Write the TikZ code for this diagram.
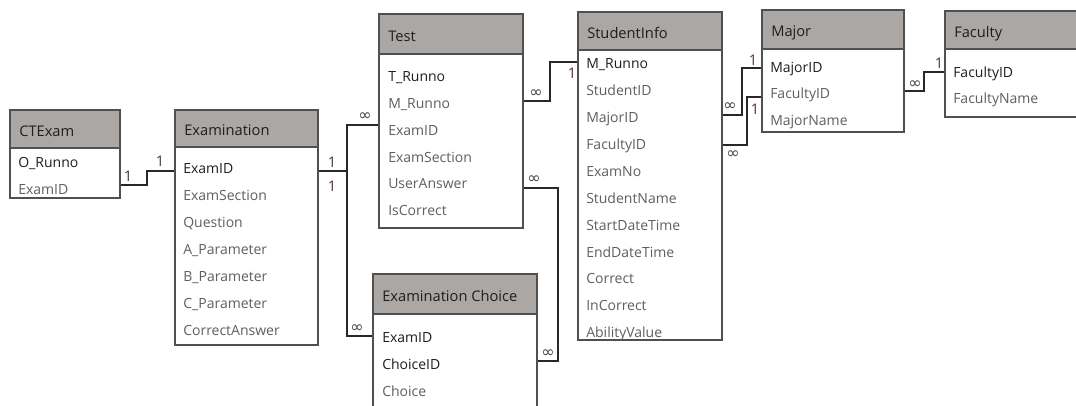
\documentclass[tikz,border=0pt]{standalone}
\usepackage{fontspec}
\setmainfont{Open Sans}
\newfontfamily\symfont{DejaVu Sans}
\usetikzlibrary{fit,calc}
\definecolor{hdrgray}{RGB}{171,167,165}
\definecolor{framegray}{RGB}{80,80,80}
\definecolor{keytext}{RGB}{30,30,30}
\definecolor{fieldtext}{RGB}{95,95,95}
\definecolor{onecol}{RGB}{85,50,55}
\definecolor{manycol}{RGB}{70,70,70}
\definecolor{linkcol}{RGB}{40,40,40}

\tikzset{
  hdr/.style={draw=framegray, fill=hdrgray, line width=0.9pt, inner sep=0pt},
  tbody/.style={draw=framegray, fill=white, line width=0.9pt, inner sep=0pt},
  rowtxt/.style={anchor=west, inner sep=0pt, text height=7.5pt, text depth=0pt,
    font=\fontsize{10.5}{12}\selectfont},
  ttl/.style={rowtxt, text=keytext, font=\fontsize{11}{13}\selectfont},
  pk/.style={rowtxt, text=keytext},
  fld/.style={rowtxt, text=fieldtext},
  link/.style={draw=linkcol, line width=0.9pt},
  one/.style={text=onecol, inner sep=0pt, font=\fontsize{11}{12}\selectfont},
  many/.style={text=manycol, inner sep=0pt, font=\symfont\fontsize{12}{13}\selectfont},
}

% table frame: name, left, right, top, header bottom, bottom, title
\newcommand\ertable[7]{%
  \node[hdr, fit={(#2,#4)(#3,#5)}] (#1h) {};
  \node[tbody, fit={(#2,#5)(#3,#6)}] (#1) {};
  \node[ttl] (#1t) at (#2+9, {(#4+#5)/2+2}) {#7};
}

\begin{document}
\begin{tikzpicture}[x=0.75pt, y=-0.75pt]
  \useasboundingbox (0,0) rectangle (1076,405);
  \clip (0,0) rectangle (1076,405);

  % ---- tables ----
  \ertable{ct}{10}{120}{110}{148}{198}{CTExam}
  \node[pk]  (ct1) at (18,162) {O\_Runno};
  \node[fld] (ct2) at (18,189) {ExamID};

  \ertable{ex}{175}{318}{110}{147}{345}{Examination}
  \node[pk]  (ex1) at (183,168) {ExamID};
  \node[fld] (ex2) at (183,195) {ExamSection};
  \node[fld] (ex3) at (183,222) {Question};
  \node[fld] (ex4) at (183,249) {A\_Parameter};
  \node[fld] (ex5) at (183,276) {B\_Parameter};
  \node[fld] (ex6) at (183,303) {C\_Parameter};
  \node[fld] (ex7) at (183,330) {CorrectAnswer};

  \ertable{ts}{379}{523}{14}{54}{228}{Test}
  \node[pk]  (ts1) at (388,76)  {T\_Runno};
  \node[fld] (ts2) at (388,103) {M\_Runno};
  \node[fld] (ts3) at (388,130) {ExamID};
  \node[fld] (ts4) at (388,157) {ExamSection};
  \node[fld] (ts5) at (388,183) {UserAnswer};
  \node[fld] (ts6) at (388,210) {IsCorrect};

  \ertable{si}{578}{722}{12}{50}{340}{StudentInfo}
  \node[pk]  (si1)  at (586,63)  {M\_Runno};
  \node[fld] (si2)  at (586,90)  {StudentID};
  \node[fld] (si3)  at (586,117) {MajorID};
  \node[fld] (si4)  at (586,144) {FacultyID};
  \node[fld] (si5)  at (586,171) {ExamNo};
  \node[fld] (si6)  at (586,198) {StudentName};
  \node[fld] (si7)  at (586,225) {StartDateTime};
  \node[fld] (si8)  at (586,252) {EndDateTime};
  \node[fld] (si9)  at (586,278) {Correct};
  \node[fld] (si10) at (586,305) {InCorrect};
  \node[fld] (si11) at (586,332) {AbilityValue};

  \ertable{mj}{762}{904}{10}{49}{132}{Major}
  \node[pk]  (mj1) at (770,67)  {MajorID};
  \node[fld] (mj2) at (770,93)  {FacultyID};
  \node[fld] (mj3) at (770,120) {MajorName};

  \ertable{fa}{945}{1090}{11}{49}{117}{Faculty}
  \node[pk]  (fa1) at (953,72) {FacultyID};
  \node[fld] (fa2) at (953,98) {FacultyName};

  \ertable{ec}{373}{537}{274}{314}{420}{Examination Choice}
  \node[pk]  (ec1) at (382,337) {ExamID};
  \node[pk]  (ec2) at (382,364) {ChoiceID};
  \node[fld] (ec3) at (382,391) {Choice};

  % ---- bend columns of the relationship lines ----
  \coordinate (b1) at (147,0);
  \coordinate (b2) at (347,0);
  \coordinate (b3) at (550,0);
  \coordinate (b4) at (558,0);
  \coordinate (b5) at (742,0);
  \coordinate (b6) at (747,0);
  \coordinate (b7) at (924,0);

  % ---- line ends on the table edges ----
  \coordinate (ctR)  at ($(ct.east |- ct2)+(0,-4)$);
  \coordinate (exL)  at ($(ex.west |- ex1)+(0,3)$);
  \coordinate (exR)  at ($(ex.east |- ex1)+(0,3)$);
  \coordinate (tsL)  at ($(ts.west |- ts3)+(0,-5)$);
  \coordinate (tsR1) at ($(ts.east |- ts2)+(0,-2)$);
  \coordinate (tsR2) at ($(ts.east |- ts5)+(0,5)$);
  \coordinate (ecL)  at ($(ec.west |- ec1)+(0,-1)$);
  \coordinate (ecR)  at ($(ec.east |- ec2)+(0,-3)$);
  \coordinate (siL)  at ($(si.west |- si1)+(0,-1)$);
  \coordinate (siR1) at ($(si.east |- si3)+(0,-2)$);
  \coordinate (siR2) at ($(si.east |- si4)+(0,1)$);
  \coordinate (mjL1) at ($(mj.west |- mj1)+(0,1)$);
  \coordinate (mjL2) at ($(mj.west |- mj2)+(0,4)$);
  \coordinate (mjR)  at ($(mj.east |- mj2)+(0,-2)$);
  \coordinate (faL)  at (fa.west |- fa1);

  % ---- relationships ----
  \draw[link] (ctR)  -| (b1 |- exL) -- (exL);
  \draw[link] (exR)  -| (b2 |- tsL) -- (tsL);
  \draw[link] (exR)  -| (b2 |- ecL) -- (ecL);
  \draw[link] (tsR1) -| (b3 |- siL) -- (siL);
  \draw[link] (tsR2) -| (b4 |- ecR) -- (ecR);
  \draw[link] (siR1) -| (b5 |- mjL1) -- (mjL1);
  \draw[link] (siR2) -| (b6 |- mjL2) -- (mjL2);
  \draw[link] (mjR)  -| (b7 |- faL) -- (faL);

  % ---- cardinality marks ----
  \node[one]  (k1)  at (128,176) {1};
  \node[one]  (k2)  at (160,161) {1};
  \node[one]  (k3)  at (332,162) {1};
  \node[one]  (k4)  at (332,186) {1};
  \node[many] (k5)  at (365,117) {∞};
  \node[many] (k6)  at (357,329) {∞};
  \node[many] (k7)  at (536,94)  {∞};
  \node[one]  (k8)  at (572,73)  {1};
  \node[many] (k9)  at (534,180) {∞};
  \node[many] (k10) at (548,354) {∞};
  \node[many] (k11) at (730,107) {∞};
  \node[one]  (k12) at (753,60)  {1};
  \node[one]  (k13) at (755,109) {1};
  \node[many] (k14) at (733,155) {∞};
  \node[many] (k15) at (915,85)  {∞};
  \node[one]  (k16) at (939,63)  {1};
\end{tikzpicture}
\end{document}
